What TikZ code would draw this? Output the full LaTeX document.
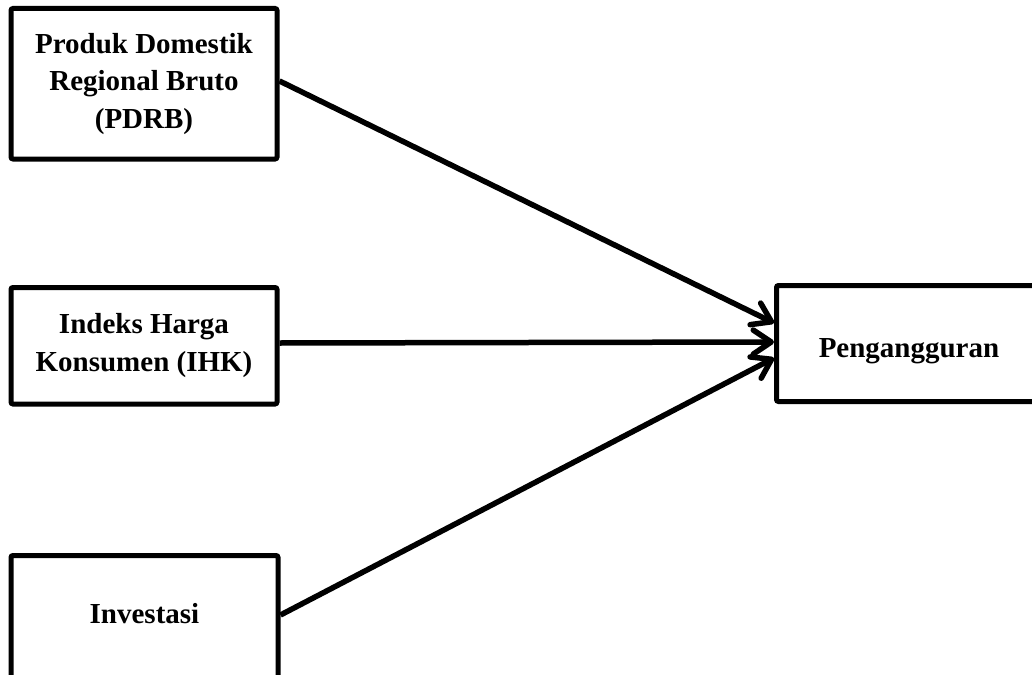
\documentclass[tikz,border=0pt]{standalone}
\usepackage{fontspec}
\setmainfont{Liberation Serif}
\usetikzlibrary{arrows.meta}
\begin{document}
\begin{tikzpicture}[x=1pt,y=-1pt,
  box/.style={draw=black, line width=5pt, rounded corners=2pt, fill=white,
    inner sep=0pt, align=center,
    font=\fontsize{29pt}{37.5pt}\selectfont\bfseries},
  conn/.style={line width=5.5pt, black,
    -{Straight Barb[length=18pt,width=24pt,line cap=round,line join=round]}}]
\useasboundingbox (0,0) rectangle (1032,674);
\clip (0,0) rectangle (1032,674);
\node[box, minimum width=266pt, minimum height=150.5pt] (pdrb) at (144,83.75)
  {Produk Domestik\\Regional Bruto\\(PDRB)};
\node[box, minimum width=266pt, minimum height=116.5pt] (ihk) at (144,345.75)
  {Indeks Harga\\Konsumen (IHK)};
\node[box, minimum width=267pt, text height=67.5pt, text depth=72pt] (inv) at (144.5,625.25)
  {Investasi};
\node[box, minimum width=265pt, text height=71.5pt, text depth=44.5pt] (peng) at (909,343.5)
  {Pengangguran};
\draw[conn] ([yshift=2.75pt]pdrb.east) -- ([yshift=20.5pt]peng.west);
\draw[conn] ([yshift=2.75pt]ihk.east) -- ([yshift=1.5pt]peng.west);
\draw[conn] ([yshift=10.25pt]inv.east) -- ([yshift=-14.5pt]peng.west);
\end{tikzpicture}
\end{document}
